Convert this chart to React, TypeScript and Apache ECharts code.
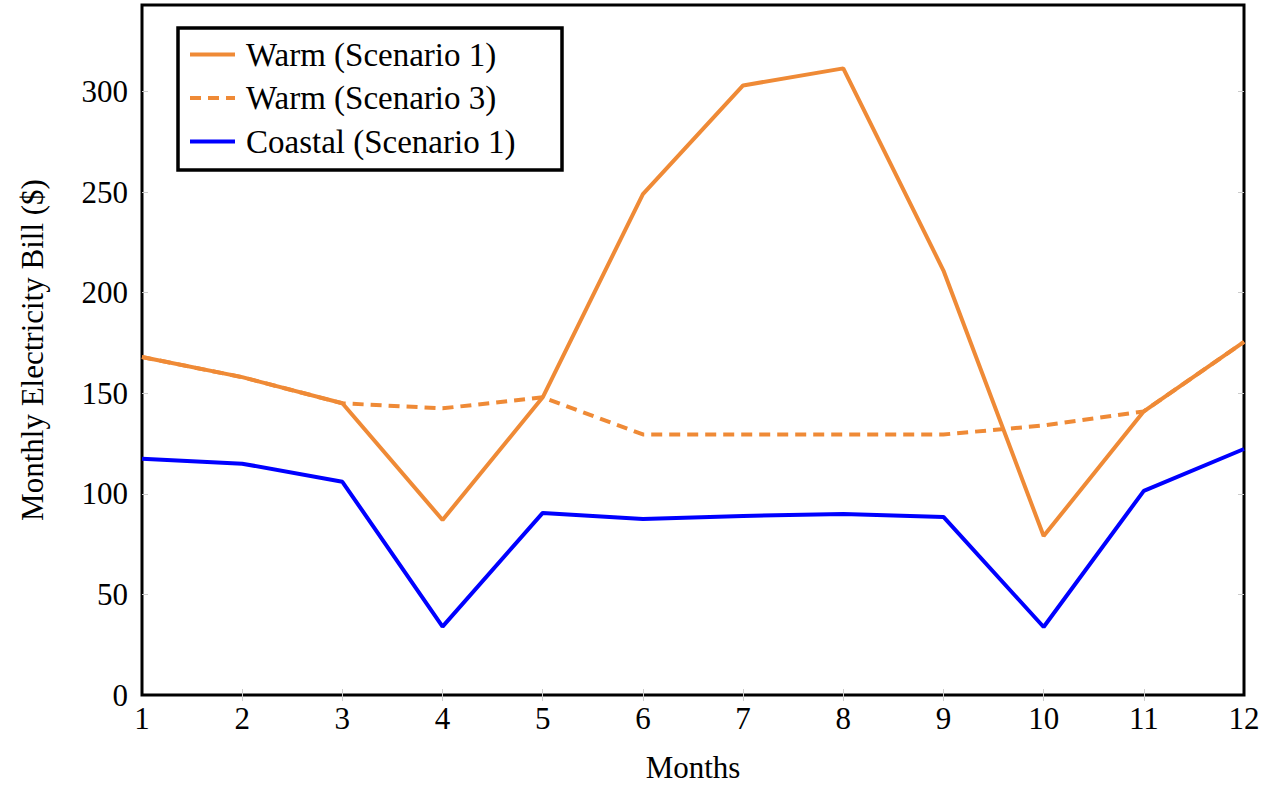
import React, { useEffect, useRef } from "react";
import * as echarts from "echarts";

const months = [1, 2, 3, 4, 5, 6, 7, 8, 9, 10, 11, 12];
const warmS1 = [168, 158, 145, 87, 148, 249, 303, 311.5, 211, 79, 141, 175.5];
const warmS3 = [168, 158, 145, 142.5, 148, 129.5, 129.5, 129.5, 129.5, 134, 141, 175.5];
const coastalS1 = [117.5, 115, 106, 34, 90.5, 87.5, 89, 90, 88.5, 33.8, 101.5, 122.3];
const yTicks = [0, 50, 100, 150, 200, 250, 300];
const xTicks = months;
const seriesNames = ["Warm (Scenario 1)", "Warm (Scenario 3)", "Coastal (Scenario 1)"];

const ORANGE = "#EF8A36";
const BLUE = "#0000FF";
const FONT = "'Liberation Serif', serif";

export default function App() {
  const ref = useRef<HTMLDivElement>(null);
  useEffect(() => {
    if (!ref.current) return;
    const chart = echarts.init(ref.current, null, { renderer: "svg" });
    const pair = (arr: number[]) => months.map((m, i) => [m, arr[i]]);
    const tickStyle = { show: true, inside: true, length: 6, lineStyle: { color: "#cccccc", width: 1 } };
    chart.setOption({
      animation: false,
      backgroundColor: "#fff",
      textStyle: { fontFamily: FONT, color: "#000" },
      grid: {
        left: 142,
        right: 34,
        top: 5,
        bottom: 90,
        show: true,
        borderColor: "#000",
        borderWidth: 3,
        backgroundColor: "transparent",
      },
      xAxis: [
        {
          type: "value",
          min: 1,
          max: 12,
          interval: 1,
          name: "Months",
          nameLocation: "middle",
          nameGap: 57,
          nameTextStyle: { fontSize: 31, fontFamily: FONT, color: "#000" },
          axisLine: { show: false },
          axisTick: { ...tickStyle, customValues: xTicks.slice(1, -1) },
          splitLine: { show: false },
          axisLabel: { fontSize: 31, fontFamily: FONT, color: "#000", margin: 8, customValues: xTicks },
        },
        {
          type: "value",
          position: "top",
          min: 1,
          max: 12,
          interval: 1,
          axisLine: { show: false },
          axisTick: { ...tickStyle, customValues: xTicks.slice(1, -1) },
          splitLine: { show: false },
          axisLabel: { show: false },
        },
      ],
      yAxis: [
        {
          type: "value",
          min: 0,
          max: 343,
          name: "Monthly Electricity Bill ($)",
          nameLocation: "middle",
          nameGap: 94,
          nameTextStyle: { fontSize: 31, fontFamily: FONT, color: "#000" },
          axisLine: { show: false },
          axisTick: { ...tickStyle, customValues: yTicks.slice(1) },
          splitLine: { show: false },
          axisLabel: { fontSize: 31, fontFamily: FONT, color: "#000", margin: 14, customValues: yTicks },
        },
        {
          type: "value",
          position: "right",
          min: 0,
          max: 343,
          axisLine: { show: false },
          axisTick: { ...tickStyle, customValues: yTicks.slice(1) },
          splitLine: { show: false },
          axisLabel: { show: false },
        },
      ],
      legend: {
        orient: "vertical",
        left: 188,
        top: 38,
        padding: 0,
        itemWidth: 45,
        itemHeight: 30,
        itemGap: 10.5,
        itemStyle: { opacity: 0 },
        lineStyle: { width: 4 },
        textStyle: { fontSize: 33, fontFamily: FONT, color: "#000", lineHeight: 30, padding: [0, 0, 0, 6] },
        data: seriesNames,
      },
      graphic: [
        {
          type: "rect",
          shape: { x: 178, y: 28, width: 384, height: 142 },
          style: { fill: "#fff", stroke: "#000", lineWidth: 3.5 },
          z: 0,
          zlevel: 0,
        },
      ],
      series: [
        {
          name: seriesNames[0],
          type: "line",
          data: pair(warmS1),
          symbol: "none",
          lineStyle: { color: ORANGE, width: 4 },
          itemStyle: { color: ORANGE },
          z: 3,
        },
        {
          name: seriesNames[1],
          type: "line",
          data: pair(warmS3),
          symbol: "none",
          lineStyle: { color: ORANGE, width: 4, type: [11, 7] },
          itemStyle: { color: ORANGE },
          z: 2,
        },
        {
          name: seriesNames[2],
          type: "line",
          data: pair(coastalS1),
          symbol: "none",
          lineStyle: { color: BLUE, width: 4 },
          itemStyle: { color: BLUE },
          z: 2,
        },
      ],
    });
    return () => chart.dispose();
  }, []);
  return (
    <div
      ref={ref}
      style={{ position: "fixed", left: 0, top: 0, width: 1278, height: 788, background: "#fff" }}
    />
  );
}
